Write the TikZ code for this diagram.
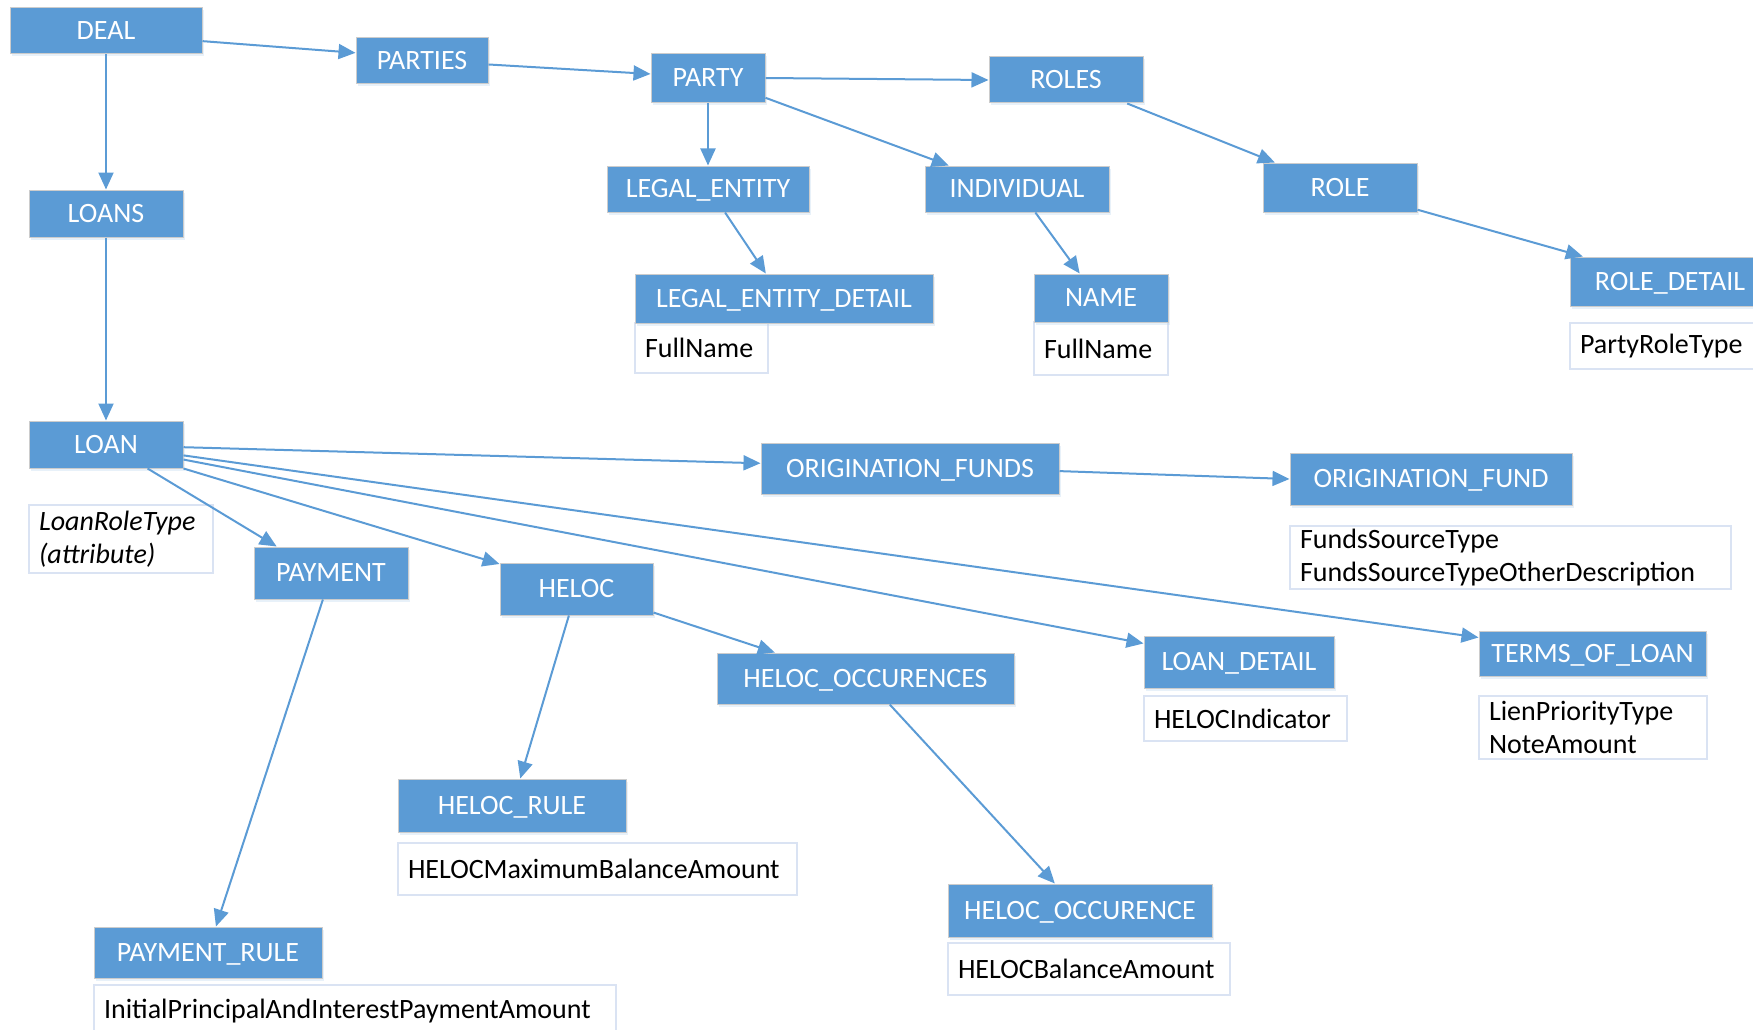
\documentclass[tikz,border=0pt]{standalone}
\usepackage{fontspec}
\setmainfont{Carlito}
\usepackage{tikz}
\usetikzlibrary{arrows.meta,shadows}
\definecolor{bleu}{HTML}{5B9BD5}
\definecolor{bordattr}{HTML}{DAE3F3}

\begin{document}
\begin{tikzpicture}[x=1pt,y=-1pt]
	\tikzstyle{entite}=[rectangle,draw=black!20,line width=1pt,fill=bleu,
	text=white,inner sep=0pt,minimum height=47pt,font=\fontsize{28}{34}\selectfont,
	text height=17.7pt,text depth=0pt,
	drop shadow={shadow xshift=1.5pt,shadow yshift=-2.5pt,fill=bleu!40,opacity=0.35}]
	\tikzstyle{attribut}=[rectangle,draw=bordattr,line width=1.5pt,fill=white,
	inner xsep=10pt,inner ysep=0pt,align=left,minimum height=50pt,
	font=\fontsize{28}{33}\selectfont]

	\useasboundingbox (0,0) rectangle (1753,1030);

	\node[attribut,text width=113pt] (ledetA) at (701.5,348) {FullName};
	\node[attribut,text width=114pt,minimum height=53pt] (nameA) at (1101,348.5) {FullName};
	\node[attribut,text width=180pt,minimum height=46pt] (roledetA) at (1670,346) {PartyRoleType};
	\node[attribut,text width=164pt,minimum height=68pt] (loanA) at (121,539) {\itshape LoanRoleType\\\itshape (attribute)};
	\node[attribut,text width=421pt,minimum height=63pt] (ofundA) at (1510.5,557.5) {FundsSourceType\\FundsSourceTypeOtherDescription};
	\node[attribut,text width=183pt,minimum height=45pt] (ldetA) at (1245.5,718.5) {HELOCIndicator};
	\node[attribut,text width=208pt,minimum height=63pt] (termsA) at (1593,727.5) {LienPriorityType\\NoteAmount};
	\node[attribut,text width=379pt,minimum height=52pt] (helocruleA) at (597.5,869) {HELOCMaximumBalanceAmount};
	\node[attribut,text width=262pt,minimum height=52pt] (helococcurA) at (1089,969) {HELOCBalanceAmount};
	\node[attribut,text width=502pt,minimum height=52pt] (payruleA) at (355,1011) {InitialPrincipalAndInterestPaymentAmount};

	\node[entite,minimum width=192pt,minimum height=46pt] (deal) at (106,31) {DEAL};
	\node[entite,minimum width=132pt,minimum height=46pt] (parties) at (422,61) {PARTIES};
	\node[entite,minimum width=114pt,minimum height=49pt] (party) at (708,78) {PARTY};
	\node[entite,minimum width=154pt,minimum height=46pt] (roles) at (1066,80) {ROLES};
	\node[entite,minimum width=202pt,minimum height=46pt] (legal) at (708,189) {LEGAL\_ENTITY};
	\node[entite,minimum width=184pt,minimum height=46pt] (indiv) at (1017,189) {INDIVIDUAL};
	\node[entite,minimum width=154pt,minimum height=49pt] (role) at (1340,187.5) {ROLE};
	\node[entite,minimum width=200pt,minimum height=49pt] (roledet) at (1670,281.5) {ROLE\_DETAIL};
	\node[entite,minimum width=298pt,minimum height=49pt] (ledet) at (784,298.5) {LEGAL\_ENTITY\_DETAIL};
	\node[entite,minimum width=134pt,minimum height=48pt] (name) at (1101,298) {NAME};
	\node[entite,minimum width=154pt] (loans) at (106,213.5) {LOANS};
	\node[entite,minimum width=154pt] (loan) at (106,444.5) {LOAN};
	\node[entite,minimum width=154pt,minimum height=52pt] (payment) at (331,573) {PAYMENT};
	\node[entite,minimum width=153pt,minimum height=52pt] (heloc) at (576.5,589) {HELOC};
	\node[entite,minimum width=298pt,minimum height=51pt] (ofunds) at (910,468.5) {ORIGINATION\_FUNDS};
	\node[entite,minimum width=282pt,minimum height=52pt] (ofund) at (1431,479) {ORIGINATION\_FUND};
	\node[entite,minimum width=190pt,minimum height=52pt] (ldet) at (1239,662) {LOAN\_DETAIL};
	\node[entite,minimum width=227pt,minimum height=45pt] (terms) at (1592.5,653.5) {TERMS\_OF\_LOAN};
	\node[entite,minimum width=228pt,minimum height=53pt] (helocrule) at (512,805.5) {HELOC\_RULE};
	\node[entite,minimum width=297pt,minimum height=51pt] (helococc) at (865.5,678.5) {HELOC\_OCCURENCES};
	\node[entite,minimum width=264pt,minimum height=53pt] (helococcur) at (1080,910.5) {HELOC\_OCCURENCE};
	\node[entite,minimum width=228pt,minimum height=51pt] (payrule) at (208,952.5) {PAYMENT\_RULE};

	\tikzstyle{lien}=[-{Triangle[length=17pt,width=15pt]},line width=2pt,draw=bleu]

	\draw[lien] (deal.-6) -- (parties.173);
	\draw[lien] (parties.-3) -- (party.176);
	\draw[lien] (party.east) -- (roles.west);
	\draw[lien] (party.south) -- (legal.north);
	\draw[lien] (party.-19) -- (indiv.161);
	\draw[lien] (roles.-21) -- (role.159);
	\draw[lien] (role.-16) -- (roledet.164);
	\draw[lien] (legal.-54) -- (ledet.126);
	\draw[lien] (indiv.-52) -- (name.131);
	\draw[lien] (deal.south) -- (loans.north);
	\draw[lien] (loans.south) -- (loan.north);
	\draw[lien] (loan.-30) -- (payment.154);
	\draw[lien] (loan.-2) -- (ofunds.178);
	\draw[lien] (loan.south east) -- (heloc.162);
	\draw[lien] (loan.-11) -- (ldet.169);
	\draw[lien] (loan.-8) -- (terms.172);
	\draw[lien] (ofunds.-1) -- (ofund.west);
	\draw[lien] (payment.-107) -- (payrule.73);
	\draw[lien] (heloc.-106) -- (helocrule.73);
	\draw[lien] (heloc.-17) -- (helococc.164);
	\draw[lien] (helococc.-47) -- (helococcur.133);
\end{tikzpicture}
\end{document}
